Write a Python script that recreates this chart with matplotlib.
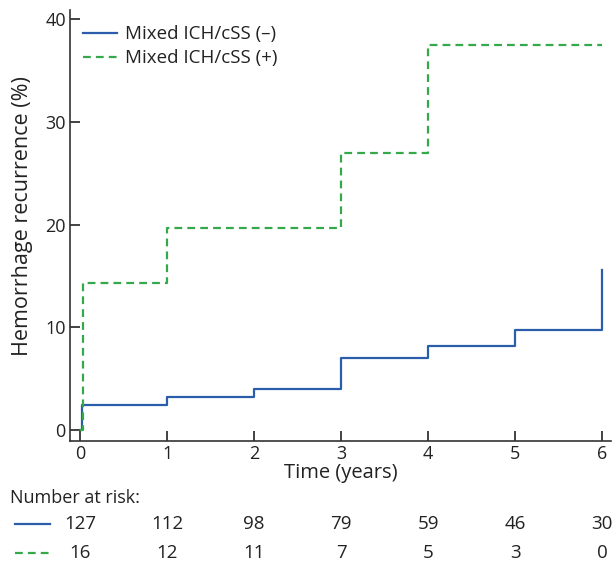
import matplotlib.pyplot as plt
from matplotlib.lines import Line2D

plt.rcParams['font.family'] = ['Open Sans', 'DejaVu Sans']

# cumulative hemorrhage recurrence (%)
time_neg = [0, 0.02, 1, 2, 3, 4, 5, 6]
recur_neg = [0, 2.4, 3.2, 4.0, 7.0, 8.2, 9.7, 15.6]
time_pos = [0, 0.03, 1, 3, 4, 6]
recur_pos = [0, 14.3, 19.7, 27.0, 37.5, 37.5]

years = [0, 1, 2, 3, 4, 5, 6]
risk_neg = [127, 112, 98, 79, 59, 46, 30]
risk_pos = [16, 12, 11, 7, 5, 3, 0]

blue = '#2b5dab'
green = '#35a84b'
txt = '#222222'

fig = plt.figure(figsize=(6.12, 5.65), dpi=100)
ax = fig.add_axes([70 / 612, 124 / 565, 541 / 612, 431 / 565])

ax.step(time_neg, recur_neg, where='post', color=blue, lw=1.6, label='Mixed ICH/cSS (\u2013)')
ax.step(time_pos, recur_pos, where='post', color=green, lw=1.6, dashes=(3.5, 2.3),
        label='Mixed ICH/cSS (+)')

ax.set_xlim(-0.115, 6.1)
ax.set_ylim(-1.07, 40.9)
ax.set_xticks(years)
ax.set_yticks([0, 10, 20, 30, 40])
ax.tick_params(direction='in', length=7, width=1.2, labelsize=13, colors=txt, pad=3)
for s in ['top', 'right']:
    ax.spines[s].set_visible(False)
for s in ['left', 'bottom']:
    ax.spines[s].set_linewidth(1.2)
    ax.spines[s].set_color('#333333')

ax.set_xlabel('Time (years)', fontsize=14.5, color=txt, labelpad=0)
ax.set_ylabel('Hemorrhage recurrence (%)', fontsize=15.5, color=txt)
ax.yaxis.set_label_coords(-0.068, 0.522)

ax.legend(loc='upper left', bbox_to_anchor=(-0.008, 1.004), frameon=False, fontsize=13.5,
          handlelength=1.85, handletextpad=0.4, labelspacing=0.33, labelcolor=txt)

# number at risk table
fig.text(10 / 612, 1 - 498 / 565, 'Number at risk:', fontsize=13, color=txt, va='center')
trans = ax.get_xaxis_transform()
for row_y, counts in [(-0.193, risk_neg), (-0.261, risk_pos)]:
    for x, n in zip(years, counts):
        ax.text(x, row_y, str(n), transform=trans, ha='center', va='center',
                fontsize=13.5, color=txt, clip_on=False)
fig.add_artist(Line2D([15 / 612, 50 / 612], [1 - 524 / 565] * 2, color=blue, lw=1.6))
fig.add_artist(Line2D([15 / 612, 50 / 612], [1 - 553 / 565] * 2, color=green, lw=1.6,
                      dashes=(3.5, 2.3)))

fig.savefig('out.png', dpi=100)
